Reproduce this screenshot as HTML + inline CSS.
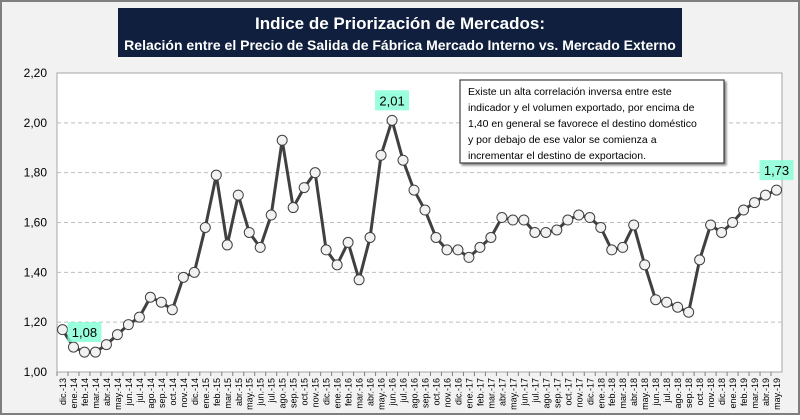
<!DOCTYPE html>
<html><head><meta charset="utf-8"><style>
body{margin:0;width:800px;height:415px;overflow:hidden;background:#fff;font-family:"Liberation Sans",sans-serif}
</style></head><body>
<svg id="chart" width="800" height="415" xmlns="http://www.w3.org/2000/svg">
<rect x="1" y="1" width="798" height="413" fill="#f2f2f2" stroke="#7f7f7f" stroke-width="2"/>
<rect x="118" y="8" width="564" height="49" fill="#0f1f3d"/>
<text x="400" y="29" text-anchor="middle" fill="#fff" font-size="17" font-weight="bold">Indice de Priorización de Mercados:</text>
<text x="400" y="50" text-anchor="middle" fill="#fff" font-size="14" font-weight="bold">Relación  entre el Precio de Salida de Fábrica Mercado Interno vs. Mercado Externo</text>
<rect x="57" y="73" width="725" height="299" fill="#fff" stroke="#a6a6a6"/>
<g id="grid"></g><g id="yt"></g><g id="xt"></g><g id="series"></g>
<rect x="460" y="80" width="264" height="83" fill="#fff" stroke="#404040" stroke-width="1.2" style="filter:drop-shadow(2px 2px 1px #888)"/>
<text font-size="10.5" fill="#000">
<tspan x="468" y="95">Existe un alta correlación inversa entre este</tspan>
<tspan x="468" y="111">indicador y el volumen exportado, por encima de</tspan>
<tspan x="468" y="127">1,40 en general se favorece el destino doméstico</tspan>
<tspan x="468" y="143">y por debajo de ese valor se comienza a</tspan>
<tspan x="468" y="159">incrementar el destino de exportacion.</tspan>
</text>
</svg>
<script>
const categories=["dic.-13","ene.-14","feb.-14","mar.-14","abr.-14","may.-14","jun.-14","jul.-14","ago.-14","sep.-14","oct.-14","nov.-14","dic.-14","ene.-15","feb.-15","mar.-15","abr.-15","may.-15","jun.-15","jul.-15","ago.-15","sep.-15","oct.-15","nov.-15","dic.-15","ene.-16","feb.-16","mar.-16","abr.-16","may.-16","jun.-16","jul.-16","ago.-16","sep.-16","oct.-16","nov.-16","dic.-16","ene.-17","feb.-17","mar.-17","abr.-17","may.-17","jun.-17","jul.-17","ago.-17","sep.-17","oct.-17","nov.-17","dic.-17","ene.-18","feb.-18","mar.-18","abr.-18","may.-18","jun.-18","jul.-18","ago.-18","sep.-18","oct.-18","nov.-18","dic.-18","ene.-19","feb.-19","mar.-19","abr.-19","may.-19"];
const values=[1.17,1.10,1.08,1.08,1.11,1.15,1.19,1.22,1.30,1.28,1.25,1.38,1.40,1.58,1.79,1.51,1.71,1.56,1.50,1.63,1.93,1.66,1.74,1.80,1.49,1.43,1.52,1.37,1.54,1.87,2.01,1.85,1.73,1.65,1.54,1.49,1.49,1.46,1.50,1.54,1.62,1.61,1.61,1.56,1.56,1.57,1.61,1.63,1.62,1.58,1.49,1.50,1.59,1.43,1.29,1.28,1.26,1.24,1.45,1.59,1.56,1.60,1.65,1.68,1.71,1.73];
const yTicks=[1.0,1.2,1.4,1.6,1.8,2.0,2.2];
const labeled=[2,30,65];
const NS="http://www.w3.org/2000/svg";
const L=57,R=782,T=73,B=372,ymin=1,ymax=2.2;
const x=i=>L+(R-L)/categories.length*(i+0.5);
const y=v=>B-(v-ymin)/(ymax-ymin)*(B-T);
const fmt=v=>v.toFixed(2).replace('.',',');
function mk(t,a,p){const e=document.createElementNS(NS,t);for(const k in a)e.setAttribute(k,a[k]);p.appendChild(e);return e;}
const grid=document.getElementById('grid'),yt=document.getElementById('yt'),xt=document.getElementById('xt'),s=document.getElementById('series');
yTicks.forEach(v=>{
 if(v>ymin&&v<ymax){const g=mk('line',{x1:L,x2:R,y1:y(v),y2:y(v),stroke:'#bfbfbf','stroke-dasharray':'4,3'},grid);
 
 }
 const t=mk('text',{x:47,y:y(v)+4,'text-anchor':'end','font-size':'12',fill:'#000'},yt);t.textContent=fmt(v);
 
 
});
categories.forEach((c,i)=>{
 const tk=mk('line',{x1:L+(R-L)/categories.length*i,x2:L+(R-L)/categories.length*i,y1:B,y2:B+4,stroke:'#808080'},xt);
 
 
 const t=mk('text',{transform:`translate(${x(i)+3.5},${B+6}) rotate(-90)`,'text-anchor':'end','font-size':'9',fill:'#000'},xt);t.textContent=c;
 
 
});
const pl=mk('polyline',{points:values.map((v,i)=>x(i)+','+y(v)).join(' '),fill:'none',stroke:'#404040','stroke-width':'3','stroke-linejoin':'round'},s);


values.forEach((v,i)=>{
 const c=mk('circle',{cx:x(i),cy:y(v),r:5,fill:'#f2f2f2',stroke:'#404040','stroke-width':'1'},s);
 
 
});
labeled.forEach(i=>{
 const cx=x(i),cy=y(values[i])-20;
 const r=mk('rect',{x:cx-17,y:cy-10,width:34,height:20,fill:'#7fffd4',opacity:'0.8'},s);
 
 
 const t=mk('text',{x:cx,y:cy+5,'text-anchor':'middle','font-size':'13',fill:'#000'},s);t.textContent=fmt(values[i]);
 
 
});
</script>
</body></html>
